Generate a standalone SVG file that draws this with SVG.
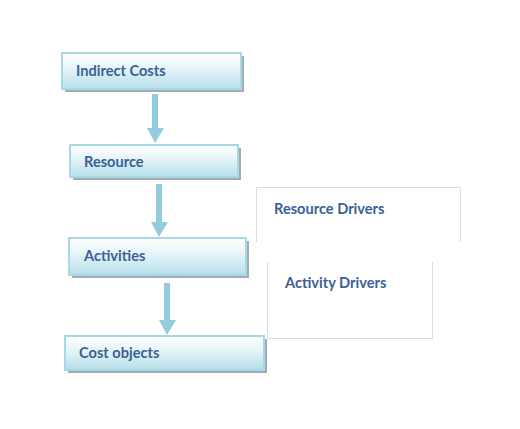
<svg xmlns="http://www.w3.org/2000/svg" width="520" height="429" viewBox="0 0 520 429">
<defs>
<linearGradient id="g" x1="0" y1="0" x2="0" y2="1">
<stop offset="0" stop-color="#ffffff"/>
<stop offset="0.4" stop-color="#e8f5f8"/>
<stop offset="1" stop-color="#b5dfea"/>
</linearGradient>
</defs>
<style>
.sh{fill:#a3abb0}
.bx{fill:url(#g);stroke:#a6d8e6;stroke-width:2}
.t{font-family:Lato,"Open Sans","Liberation Sans",sans-serif;font-weight:bold;font-size:14.6px;fill:#3b6096}
.ar{fill:#93cddd}
.db{fill:none;stroke:#dcdcdc;stroke-width:1}
</style>
<rect width="520" height="429" fill="#ffffff"/>
<g id="connectors">
<polygon class="ar" points="152,94 158,94 158,128 164,128 155,143 147,128 152,128"/>
<polygon class="ar" points="156,184 162,184 162,222 168,222 159,237 151,222 156,222"/>
<polygon class="ar" points="164,283 170,283 170,320 176,320 167,335 159,320 164,320"/>
</g>
<g id="indirect-costs">
<rect class="sh" x="65" y="56" width="179" height="36"/>
<rect class="bx" x="62" y="53" width="179" height="36"/>
<text class="t" x="76" y="76">Indirect Costs</text>
</g>
<g id="resource">
<rect class="sh" x="73" y="148" width="168" height="32"/>
<rect class="bx" x="70" y="145" width="168" height="32"/>
<text class="t" x="84" y="167">Resource</text>
</g>
<g id="activities">
<rect class="sh" x="72" y="241" width="177" height="37"/>
<rect class="bx" x="69" y="238" width="177" height="37"/>
<text class="t" x="84" y="261">Activities</text>
</g>
<g id="cost-objects">
<rect class="sh" x="68" y="339" width="199" height="34"/>
<rect class="bx" x="65" y="336" width="199" height="34"/>
<text class="t" x="79" y="358">Cost objects</text>
</g>
<g id="resource-drivers">
<path class="db" d="M256.5,242 V187.5 H460.5 V242"/>
<text class="t" x="274" y="214">Resource Drivers</text>
</g>
<g id="activity-drivers">
<path class="db" d="M267.5,262 V338.5 H432.5 V262"/>
<text class="t" x="285" y="288">Activity Drivers</text>
</g>
</svg>
